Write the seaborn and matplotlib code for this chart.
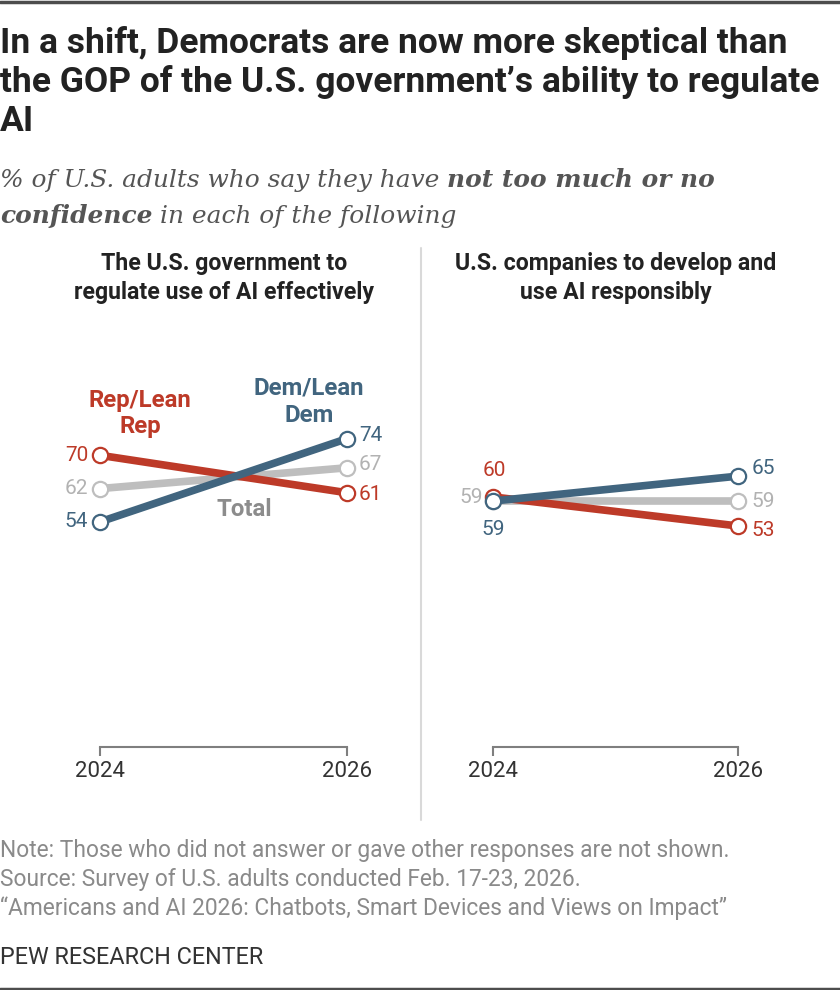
import pandas as pd
import matplotlib
matplotlib.use('Agg')
import matplotlib.pyplot as plt
import seaborn as sns
from matplotlib.lines import Line2D

years = [2024, 2026]
groups = ['Total', 'Rep/Lean Rep', 'Dem/Lean Dem']
panels = ['gov', 'comp']
gov_total = [62, 67]
gov_rep = [70, 61]
gov_dem = [54, 74]
comp_total = [59, 59]
comp_rep = [60, 53]
comp_dem = [59, 65]
panel_titles = [['The U.S. government to', 'regulate use of AI effectively'],
                ['U.S. companies to develop and', 'use AI responsibly']]

colors = {'Total': '#BEBEBE', 'Rep/Lean Rep': '#BD3A28', 'Dem/Lean Dem': '#41657F'}
label_colors = {'Total': '#B2B2B2', 'Rep/Lean Rep': '#BD3A28', 'Dem/Lean Dem': '#41657F'}

rows = []
for panel, series in zip(panels, [(gov_total, gov_rep, gov_dem), (comp_total, comp_rep, comp_dem)]):
    for g, vals in zip(groups, series):
        for yr, v in zip(years, vals):
            rows.append({'panel': panel, 'group': g, 'year': yr, 'value': v})
df = pd.DataFrame(rows)

sns.set_style('white')
SANS = 'Roboto'
SERIF = 'DejaVu Serif'
plt.rcParams['font.family'] = [SANS, 'DejaVu Sans']

W, H = 840, 990
def fx(x):
    return x / W
def fy(y):
    return 1 - y / H

fig = plt.figure(figsize=(W / 100, H / 100), dpi=100)
renderer = fig.canvas.get_renderer()

def fit_size(txt, target, weight='normal', family=SANS, style='normal', base=20):
    t = fig.text(0, 0, txt, fontsize=base, fontweight=weight, family=family, style=style)
    w = t.get_window_extent(renderer=renderer).width
    t.remove()
    return base * target / w

# border lines
fig.add_artist(Line2D([0, 1], [fy(1.5), fy(1.5)], color='#4D4D4D', lw=2.5))
fig.add_artist(Line2D([0, 1], [fy(988.5), fy(988.5)], color='#4D4D4D', lw=2.5))

# title
title_lines = ['In a shift, Democrats are now more skeptical than',
               'the GOP of the U.S. government\u2019s ability to regulate',
               'AI']
ts = fit_size(title_lines[0], 785, 'bold')
for i, line in enumerate(title_lines):
    fig.text(0, fy(53 + 39 * i), line, fontsize=ts, fontweight='bold',
             color='#222222', va='baseline', ha='left')

# subtitle with mixed weights
def rich_line(parts, x, y, size):
    texts = []
    for txt, weight in parts:
        t = fig.text(fx(x), fy(y), txt, fontsize=size, family=SERIF, style='italic',
                     fontweight=weight, color='#555555', va='baseline', ha='left')
        bb = t.get_window_extent(renderer=renderer)
        x = bb.x1 + 0.3 * size * 100 / 72
        texts.append(t)
    return texts, bb.x1

sub1 = [('% of U.S. adults who say they have', 'normal'), ('not too much or no', 'bold')]
sub2 = [('confidence', 'bold'), ('in each of the following', 'normal')]
trial, end = rich_line(sub1, 0, 187, 16)
for t in trial:
    t.remove()
ss = 16 * 718 / end
rich_line(sub1, 0, 187, ss)
rich_line(sub2, 0, 223, ss)

# panels
ax_pos = [(60, 327), (453, 325)]
centers = [224, 616]
pts = fit_size(panel_titles[0][0], 246, 'bold')
for k, panel in enumerate(panels):
    left, width = ax_pos[k]
    ax = fig.add_axes([fx(left), fy(746.5), width / W, 416 / H])
    sub = df[df['panel'] == panel]
    sns.lineplot(data=sub, x='year', y='value', hue='group', hue_order=groups,
                 palette=colors, lw=5.5, marker='o', markersize=11, legend=False, ax=ax)
    for line in ax.lines:
        line.set_markerfacecolor('white')
        line.set_markeredgecolor(line.get_color())
        line.set_markeredgewidth(1.6)
        line.set_solid_capstyle('butt')
    ax.set_xlim(2024 - 0.324, 2026 + 0.324)
    ax.set_ylim(0, 100)
    ax.set_facecolor('none')
    sns.despine(ax=ax, left=True)
    ax.spines['bottom'].set_bounds(2024, 2026)
    ax.spines['bottom'].set_color('#7F7F7F')
    ax.spines['bottom'].set_linewidth(1.5)
    ax.spines['bottom'].set_capstyle('projecting')
    ax.set_xticks(years)
    ax.set_xticklabels([str(y) for y in years])
    ax.set_yticks([])
    ax.set_xlabel('')
    ax.set_ylabel('')
    ax.tick_params(axis='x', bottom=True, direction='out', length=6.5, width=1.5,
                   color='#7F7F7F', labelsize=16, labelcolor='#333333', pad=4)
    for j, line in enumerate(panel_titles[k]):
        fig.text(fx(centers[k]), fy(270 + 29 * j), line, fontsize=pts, fontweight='bold',
                 color='#222222', ha='center', va='baseline')

    # value labels
    for g in groups:
        vals = sub[sub['group'] == g].set_index('year')['value']
        for yr in years:
            v = vals[yr]
            if panel == 'gov':
                off = {2024: (-12, 0), 2026: (12, 3 if g != 'Rep/Lean Rep' else -2)}[yr]
                ha = 'right' if yr == 2024 else 'left'
            else:
                if yr == 2024:
                    off, ha = {'Total': ((-10, 4), 'right'),
                               'Rep/Lean Rep': ((2, 26), 'center'),
                               'Dem/Lean Dem': ((0, -28), 'center')}[g]
                else:
                    off = (13, {'Total': 0, 'Rep/Lean Rep': -4, 'Dem/Lean Dem': 8}[g])
                    ha = 'left'
            ax.annotate(str(v), (yr, v), xytext=off, textcoords='offset pixels',
                        ha=ha, va='center', fontsize=15, color=label_colors[g])

# series labels
ls = fit_size('Rep/Lean', 103, 'bold')
for txt, x, y, c in [('Rep/Lean', 140, 407, colors['Rep/Lean Rep']),
                     ('Rep', 140, 433, colors['Rep/Lean Rep']),
                     ('Dem/Lean', 309, 394, colors['Dem/Lean Dem']),
                     ('Dem', 309, 422, colors['Dem/Lean Dem']),
                     ('Total', 244, 516, '#8C8C8C')]:
    fig.text(fx(x), fy(y), txt, fontsize=ls, fontweight='bold', color=c,
             ha='center', va='baseline')

# divider
fig.add_artist(Line2D([fx(421), fx(421)], [fy(248), fy(820)], color='#D9D9D9', lw=1.5))

# notes
notes = ['Note: Those who did not answer or gave other responses are not shown.',
         'Source: Survey of U.S. adults conducted Feb. 17-23, 2026.',
         '\u201cAmericans and AI 2026: Chatbots, Smart Devices and Views on Impact\u201d']
ns = fit_size(notes[0], 729)
for i, n in enumerate(notes):
    fig.text(0, fy(857 + 29 * i), n, fontsize=ns, color='#8A8A8A', va='baseline', ha='left')
fig.text(0, fy(964), 'PEW RESEARCH CENTER', fontsize=fit_size('PEW RESEARCH CENTER', 263),
         color='#333333', va='baseline', ha='left')

fig.savefig('out.png', dpi=100)
